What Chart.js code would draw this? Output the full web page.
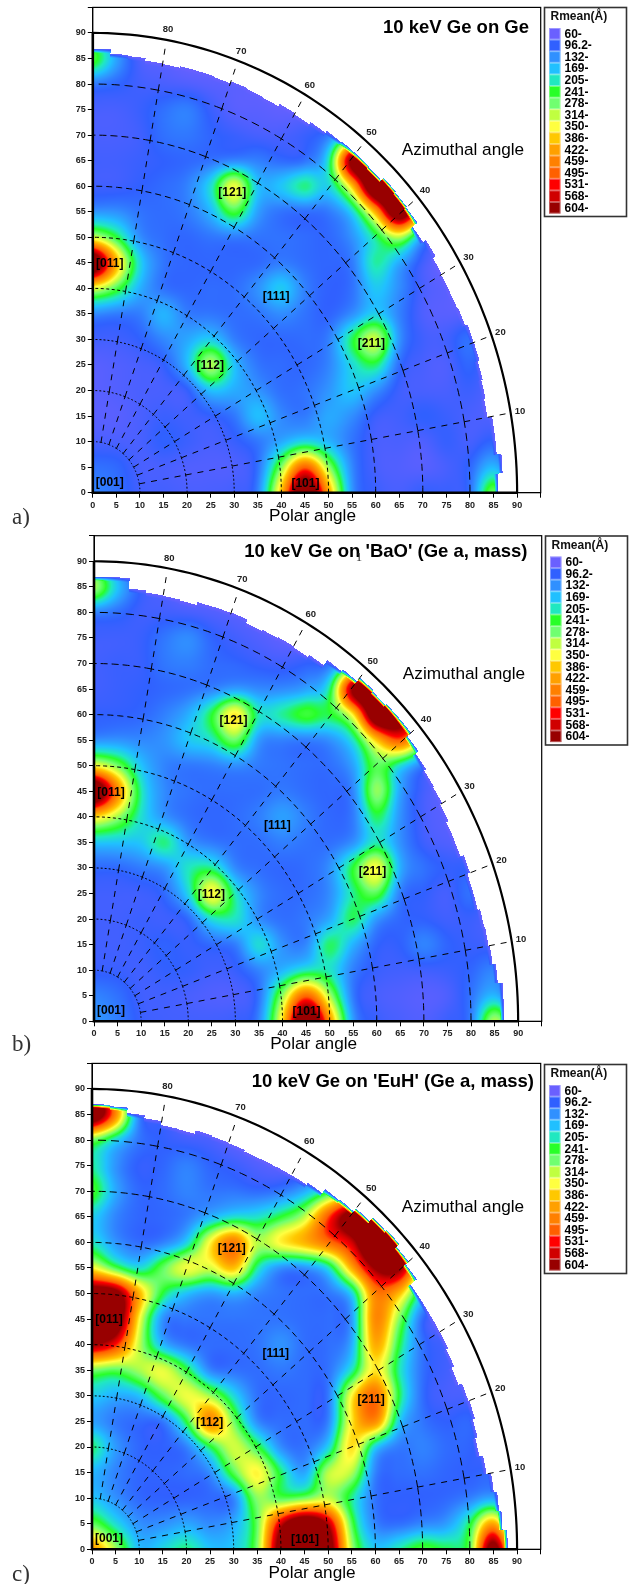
<!DOCTYPE html>
<html>
<head>
<meta charset="utf-8">
<script src="https://cdn.jsdelivr.net/npm/chart.js@4/dist/chart.umd.js"></script>
<style>
body { margin: 0; background: #fff; }
#page { position: relative; width: 634px; height: 1584px; overflow: hidden; }
canvas { position: absolute; left: 0; }
</style>
</head>
<body>
<div id="page">
<canvas id="a" width="634" height="528" style="top:0"></canvas>
<canvas id="b" width="634" height="528" style="top:528px"></canvas>
<canvas id="c" width="634" height="528" style="top:1056px"></canvas>
</div>
<script>
// tick values, colour bar and labels
const polarTicks = [0,5,10,15,20,25,30,35,40,45,50,55,60,65,70,75,80,85,90];
const circleAngles = [10,20,30,40,50,60,70,80];
const azimuthAngles = [10,20,30,40,50,60,70,80];
const legendLabels = ['60-','96.2-','132-','169-','205-','241-','278-','314-','350-','386-','422-','459-','495-','531-','568-','604-'];
const legendValues = [60,96.2,132,169,205,241,278,314,350,386,422,459,495,531,568,604];
const legendColors = ['#6a60ff','#3060ff','#3090ff','#20c0ff','#20e8c0','#28ff28','#70ff70','#c0ff40','#ffff40','#ffc800','#ffa000','#ff8000','#ff6000','#ff0000','#d00000','#980000'];
const poleNames = ['[001]','[101]','[011]','[111]','[112]','[121]','[211]'];
const poleX = [3.6,45.1,3.6,38.9,24.9,29.6,59.1];
const poleY = [2,1.8,44.8,38.3,24.8,58.8,29.2];

// Rmean on the x,y grid: rows y = 90 down to 0, columns x = 0..90 in steps of 5
const rmeanA = [
[170,100,60,60,60,60,60,60,60,60,60,60,60,60,60,60,60,60,60],
[280,150,75,70,60,60,60,60,60,60,60,60,60,60,60,60,60,60,60],
[110,100,85,80,75,70,70,65,60,60,60,60,60,60,60,60,60,60,60],
[80,80,90,110,125,90,70,70,65,65,65,60,60,60,60,60,60,60,60],
[80,80,85,110,115,100,90,80,80,90,110,200,300,300,60,60,60,60,60],
[85,85,90,95,100,105,115,120,100,100,190,700,740,740,300,60,60,60,60],
[85,85,95,105,120,195,380,165,180,240,175,375,800,780,400,60,60,60,60],
[130,130,110,105,115,160,270,140,105,100,110,170,400,760,400,60,60,60,60],
[320,240,125,105,100,110,110,110,110,105,100,130,210,310,130,70,60,60,60],
[760,420,185,110,100,100,100,100,115,105,100,110,225,145,80,60,60,60,60],
[330,260,155,105,100,105,105,135,190,120,95,105,180,130,80,70,60,60,60],
[120,110,115,170,115,110,105,110,130,110,95,125,180,120,75,70,70,60,60],
[85,85,95,125,150,180,115,100,100,105,115,240,350,130,85,85,115,60,60],
[70,75,80,90,165,340,170,110,105,100,120,190,235,100,80,75,105,60,60],
[70,75,80,80,85,170,155,135,105,110,135,180,130,85,80,80,90,70,60],
[70,70,80,90,85,90,110,180,125,110,155,130,85,85,100,90,80,75,60],
[80,80,80,100,90,80,90,110,145,180,155,110,80,80,75,95,80,100,60],
[110,105,80,80,75,75,75,100,285,520,295,120,80,75,70,80,100,170,60],
[125,110,85,85,80,80,85,110,400,760,430,125,90,80,95,90,100,300,100]
];
const rmeanB = [
[190,110,60,60,60,60,60,60,60,60,60,60,60,60,60,60,60,60,60],
[330,175,90,75,60,60,60,60,60,60,60,60,60,60,60,60,60,60,60],
[115,105,85,85,80,75,70,65,60,60,60,60,60,60,60,60,60,60,60],
[85,85,90,115,135,100,85,75,65,60,60,60,60,60,60,60,60,60,60],
[85,90,90,115,120,105,100,90,85,95,100,200,300,300,60,60,60,60,60],
[85,90,95,100,105,115,135,125,125,140,205,680,720,700,300,60,60,60,60],
[95,95,100,120,155,245,400,205,225,270,235,340,760,700,400,60,60,60,60],
[125,130,125,135,180,200,290,130,115,110,125,190,380,520,300,60,60,60,60],
[345,280,170,120,110,115,125,115,110,105,105,140,270,180,100,70,60,60,60],
[770,470,205,125,110,105,105,105,115,105,100,115,320,140,80,70,60,60,60],
[370,300,195,130,105,100,105,120,150,120,100,110,240,130,80,70,60,60,60],
[170,170,175,240,135,110,105,105,120,110,105,125,205,130,85,75,70,60,60],
[100,100,115,130,210,220,120,105,100,105,130,250,380,150,110,95,95,60,60],
[85,85,85,100,185,390,205,125,105,105,125,215,275,110,95,80,115,60,60],
[85,85,90,85,95,195,210,125,105,115,145,245,130,100,95,85,90,70,60],
[85,85,90,100,90,100,110,210,130,115,245,155,95,95,130,100,90,85,60],
[90,90,85,95,95,85,90,120,155,195,200,115,90,85,85,90,100,125,60],
[125,110,85,85,80,75,75,100,295,510,305,105,80,75,70,75,110,165,60],
[140,120,90,85,85,85,90,115,370,770,450,130,90,80,75,90,110,340,150]
];
const rmeanC = [
[700,320,120,60,60,60,60,60,60,60,60,60,60,60,60,60,60,60,60],
[760,480,105,90,60,60,60,60,60,60,60,60,60,60,60,60,60,60,60],
[260,175,110,95,85,80,65,60,60,60,60,60,60,60,60,60,60,60,60],
[215,130,90,100,125,100,90,75,65,60,60,60,60,60,60,60,60,60,60],
[270,150,100,105,125,110,110,100,110,150,225,300,300,300,60,60,60,60,60],
[180,120,100,100,110,150,185,195,240,310,520,700,760,760,300,60,60,60,60],
[200,130,100,110,170,370,500,310,380,425,490,560,790,760,400,60,60,60,60],
[350,240,180,280,370,330,420,205,115,115,175,420,620,650,300,60,60,60,60],
[700,680,420,235,160,130,150,120,110,105,105,160,470,400,180,90,60,60,60],
[780,720,345,115,110,110,110,110,110,105,105,120,480,285,90,70,60,60,60],
[620,540,310,150,105,105,105,110,140,105,105,140,440,235,105,85,60,60,60],
[270,250,310,360,250,110,105,105,115,105,105,195,375,205,105,85,70,60,60],
[180,150,160,270,360,305,190,105,100,105,100,370,510,235,100,80,80,60,60],
[140,110,100,100,235,490,280,115,105,105,105,370,480,170,110,95,105,60,60],
[240,140,100,95,110,225,340,250,120,105,170,400,160,110,125,105,100,70,60],
[160,120,100,100,105,120,270,380,230,130,330,320,110,105,110,100,95,100,60],
[175,130,100,95,95,100,105,300,240,260,310,210,105,95,95,100,115,140,60],
[270,190,130,130,150,125,150,260,590,740,610,250,115,100,120,135,230,450,100],
[450,310,160,190,230,170,175,270,690,800,690,295,170,215,270,235,250,720,200]
];

// outer limit of the data (polar angle) per 2.5 degree of azimuth, from azimuth 0 up
const edgeA = [86,87,86,86,85,85.3,85.6,86,86,85.5,85.3,85.3,85.5,86.2,85.5,86.8,87,87.2,86.5,86.7,86.7,86.5,86,85.5,85.8,85.3,85.5,85.7,85.3,85.5,85.5,85.2,85.3,85.8,86,86.9];
const edgeB = [87,87,86,85.3,85,84.8,84.3,84.3,84.9,84.2,84.3,84.8,85.3,85.5,86,86.8,87.8,87.8,87.5,87.8,86.8,86.3,85,84.5,84.7,84.5,84.3,85.1,85,84.9,84.3,84.5,84.6,85,87,87];
const edgeC = [88,87,86.5,85.8,84.8,84,84.5,85,84.8,84,84.6,85,85,85,85,86.7,87.5,88.3,88,87,86.2,86,85,84.5,84.4,84.3,84.2,84.5,84.6,84.8,84.1,84.2,85,85.6,86.7,87];

const SANS = '"Liberation Sans", Arial, sans-serif';
const circleDash = {10:[1.5,2],20:[2,2],30:[2,2],40:[3,2.5],50:[4,3],60:[6,4],70:[7,4],80:[8,5]};

function hexRgb(h) {
    return [parseInt(h.slice(1,3),16), parseInt(h.slice(3,5),16), parseInt(h.slice(5,7),16)];
}
const rgbStops = legendColors.map(hexRgb);

function colorFor(v) {
    if (v <= legendValues[0]) return rgbStops[0];
    let i = 0;
    while (i < legendValues.length - 1 && v >= legendValues[i+1]) i++;
    if (i == legendValues.length - 1) return rgbStops[i];
    let t = (v - legendValues[i]) / (legendValues[i+1] - legendValues[i]);
    let c0 = rgbStops[i], c1 = rgbStops[i+1];
    return [c0[0]+(c1[0]-c0[0])*t, c0[1]+(c1[1]-c0[1])*t, c0[2]+(c1[2]-c0[2])*t];
}

// Mitchell filter, B = C = 1/3: soft image resampling without much ringing
function kernel(x) {
    x = Math.abs(x);
    if (x < 1) return (7*x*x*x - 12*x*x + 16/3)/6;
    if (x < 2) return (-7/3*x*x*x + 12*x*x - 20*x + 32/3)/6;
    return 0;
}
function smooth(p0, p1, p2, p3, t) {
    return p0*kernel(t+1) + p1*kernel(t) + p2*kernel(1-t) + p3*kernel(2-t);
}

// smooth image of the grid, placed with the chart's own scales
function drawHeat(chart, ctx, edge) {
    const {x: sx, y: sy} = chart.scales;
    const area = chart.chartArea;
    const nodes = chart.data.datasets[0].data;
    const n = polarTicks.length;
    const cell = (ix, iy) => {
        ix = Math.max(0, Math.min(n-1, ix));
        iy = Math.max(0, Math.min(n-1, iy));
        return nodes[iy*n + ix].v;
    };
    const left = Math.floor(area.left), top = Math.floor(area.top);
    const w = Math.ceil(area.width), h = Math.ceil(area.height);
    const off = document.createElement('canvas');
    off.width = w; off.height = h;
    const octx = off.getContext('2d');
    const img = octx.createImageData(w, h);
    for (let py = 0; py < h; py++) {
        const y = sy.getValueForPixel(top + py + 0.5);
        for (let px = 0; px < w; px++) {
            const x = sx.getValueForPixel(left + px + 0.5);
            if (x < 0 || y < 0) continue;
            const r = Math.hypot(x, y);
            let bin = Math.floor(Math.atan2(y, x)*180/Math.PI/2.5);
            if (bin > 35) bin = 35;
            if (r > edge[bin]) continue;
            const fx = x/5, fy = (90-y)/5;
            const ix = Math.floor(fx), iy = Math.floor(fy);
            const tx = fx-ix, ty = fy-iy;
            const rows = [];
            for (let k = -1; k <= 2; k++) {
                rows.push(smooth(cell(ix-1,iy+k), cell(ix,iy+k), cell(ix+1,iy+k), cell(ix+2,iy+k), tx));
            }
            let v = smooth(rows[0], rows[1], rows[2], rows[3], ty);
            // thin rim where the map falls off to nothing
            const rim = edge[bin] - r;
            if (rim < 0.8) v = 60 + (v-60)*rim/0.8;
            const c = colorFor(v);
            const o = (py*w + px)*4;
            img.data[o] = c[0]; img.data[o+1] = c[1]; img.data[o+2] = c[2]; img.data[o+3] = 255;
        }
    }
    octx.putImageData(img, 0, 0);
    ctx.drawImage(off, left, top);
}

function polarLine(chart, ctx, r0, a0, r1, a1, steps) {
    const {x: sx, y: sy} = chart.scales;
    ctx.beginPath();
    for (let i = 0; i <= steps; i++) {
        const r = r0 + (r1-r0)*i/steps;
        const a = (a0 + (a1-a0)*i/steps)*Math.PI/180;
        const px = sx.getPixelForValue(r*Math.cos(a));
        const py = sy.getPixelForValue(r*Math.sin(a));
        if (i == 0) ctx.moveTo(px, py); else ctx.lineTo(px, py);
    }
    ctx.stroke();
}

function drawGrid(chart, ctx) {
    ctx.save();
    ctx.strokeStyle = '#000';
    ctx.lineWidth = 1;
    // dashes start over at every crossing
    circleAngles.forEach(t => {
        ctx.setLineDash(circleDash[t]);
        for (let a = 0; a < 90; a += 10) polarLine(chart, ctx, t, a, t, a+10, 12);
    });
    ctx.setLineDash([6,6]);
    azimuthAngles.forEach(a => {
        for (let r = 10; r < 80; r += 10) polarLine(chart, ctx, r, a, r+10, a, 1);
        polarLine(chart, ctx, 80, a, 89.3, a, 1);
    });
    ctx.setLineDash([]);
    ctx.lineWidth = 2.2;
    polarLine(chart, ctx, 90, 0, 90, 90, 90);
    ctx.restore();
}

function drawFrame(chart, ctx) {
    const {x: sx, y: sy} = chart.scales;
    const area = chart.chartArea;
    ctx.save();
    ctx.strokeStyle = '#000';
    ctx.lineWidth = 1.2;
    ctx.strokeRect(area.left, area.top, area.width, area.height);
    ctx.lineWidth = 2.6;
    ctx.beginPath();
    ctx.moveTo(sx.getPixelForValue(0), sy.getPixelForValue(90));
    ctx.lineTo(sx.getPixelForValue(0), sy.getPixelForValue(0));
    ctx.lineTo(sx.getPixelForValue(90), sy.getPixelForValue(0));
    ctx.stroke();
    ctx.restore();
}

function drawTexts(chart, ctx, p) {
    const {x: sx, y: sy} = chart.scales;
    ctx.save();
    ctx.fillStyle = '#000';
    ctx.textBaseline = 'middle';
    ctx.textAlign = 'center';
    ctx.font = 'bold 9.5px ' + SANS;
    ctx.fillStyle = '#222';
    azimuthAngles.forEach(a => {
        const rad = a*Math.PI/180;
        ctx.fillText(String(a), sx.getPixelForValue(92*Math.cos(rad)), sy.getPixelForValue(92*Math.sin(rad)));
    });
    ctx.fillStyle = '#000';
    ctx.font = 'bold 12px ' + SANS;
    poleNames.forEach((name, i) => {
        ctx.fillText(name, sx.getPixelForValue(poleX[i]), sy.getPixelForValue(poleY[i]));
    });
    ctx.font = 'bold 18.5px ' + SANS;
    ctx.textAlign = 'right';
    ctx.fillText(p.title, p.titleRight, p.titleY);
    ctx.font = '17.2px ' + SANS;
    ctx.textAlign = 'center';
    ctx.fillText('Azimuthal angle', p.azX, p.azY);
    ctx.fillText('Polar angle', sx.getPixelForValue(46.6), p.polarY);
    ctx.font = '23px "Liberation Serif", serif';
    ctx.textAlign = 'left';
    ctx.fillStyle = '#333';
    ctx.fillText(p.tag, 12, p.tagY);
    if (p.stray) {
        ctx.font = '13px "Liberation Serif", serif';
        ctx.textAlign = 'center';
        ctx.fillText('1', 359, 30);
    }
    ctx.restore();
}

function drawLegend(ctx, p) {
    const x = p.legendX, y = p.legendY;
    ctx.save();
    ctx.strokeStyle = '#333';
    ctx.lineWidth = 1.6;
    ctx.strokeRect(x, y, 82, 209);
    ctx.fillStyle = '#111';
    ctx.font = 'bold 12px ' + SANS;
    ctx.textBaseline = 'middle';
    ctx.fillText('Rmean(Å)', x + 6, y + 9.5);
    legendLabels.forEach((label, i) => {
        const top = y + 20.5 + i*11.6;
        ctx.fillStyle = legendColors[i];
        ctx.fillRect(x + 4.5, top, 11.5, 11.6);
        ctx.strokeStyle = 'rgba(255,255,255,0.35)';
        ctx.lineWidth = 1;
        ctx.strokeRect(x + 5, top + 0.5, 10.5, 10.6);
        ctx.fillStyle = '#000';
        ctx.fillText(label, x + 20, top + 6.3);
    });
    ctx.restore();
}

function buildPanel(p) {
    const nodes = [];
    p.rmean.forEach((row, iy) => row.forEach((v, ix) => {
        nodes.push({x: polarTicks[ix], y: polarTicks[polarTicks.length-1-iy], v: v});
    }));
    const tickCb = v => (v > 90 ? '' : v);
    const tickStyle = {
        min: 0, max: 95,
        grid: {drawOnChartArea: false, color: '#000', tickLength: 5, tickWidth: 1},
        border: {color: '#000'}
    };
    const tickFont = {family: SANS, size: 9, weight: 'bold'};
    return new Chart(document.getElementById(p.id), {
        type: 'scatter',
        data: {datasets: [{data: nodes, pointRadius: 0, pointHoverRadius: 0}]},
        options: {
            responsive: false,
            animation: false,
            layout: {padding: {left: 0, top: p.top, right: 634 - p.right, bottom: 0}},
            plugins: {legend: {display: false}, tooltip: {enabled: false}, title: {display: false}},
            scales: {
                x: {...tickStyle, type: 'linear',
                    ticks: {stepSize: 5, autoSkip: false, maxRotation: 0, padding: 2, color: '#222', font: tickFont, callback: tickCb},
                    afterFit: s => { s.height = 528 - p.bottom; }},
                y: {...tickStyle, type: 'linear',
                    ticks: {stepSize: 5, autoSkip: false, padding: 2, color: '#222', font: tickFont, callback: tickCb},
                    afterFit: s => { s.width = p.left; }}
            }
        },
        plugins: [{
            id: 'polarMap',
            beforeDatasetsDraw(chart) {
                drawHeat(chart, chart.ctx, p.edge);
                drawGrid(chart, chart.ctx);
            },
            afterDraw(chart) {
                drawFrame(chart, chart.ctx);
                drawTexts(chart, chart.ctx, p);
                drawLegend(chart.ctx, p);
            }
        }]
    });
}

buildPanel({id: 'a', rmean: rmeanA, edge: edgeA, left: 92.8, right: 540.7, top: 6, bottom: 492.7,
    title: '10 keV Ge on Ge', titleRight: 529, titleY: 28, azX: 463, azY: 150, polarY: 516,
    tag: 'a)', tagY: 518, legendX: 544.5, legendY: 7.5});
buildPanel({id: 'b', rmean: rmeanB, edge: edgeB, left: 94, right: 541.7, top: 7.7, bottom: 493.3,
    title: "10 keV Ge on 'BaO' (Ge a, mass)", titleRight: 527.5, titleY: 24, azX: 464, azY: 146, polarY: 516,
    tag: 'b)', tagY: 517, stray: true, legendX: 545.5, legendY: 8});
buildPanel({id: 'c', rmean: rmeanC, edge: edgeC, left: 92, right: 540.7, top: 7.3, bottom: 493.3,
    title: "10 keV Ge on 'EuH' (Ge a, mass)", titleRight: 534, titleY: 25.5, azX: 463, azY: 151, polarY: 517,
    tag: 'c)', tagY: 519, legendX: 544.5, legendY: 8.5});
</script>
</body>
</html>
